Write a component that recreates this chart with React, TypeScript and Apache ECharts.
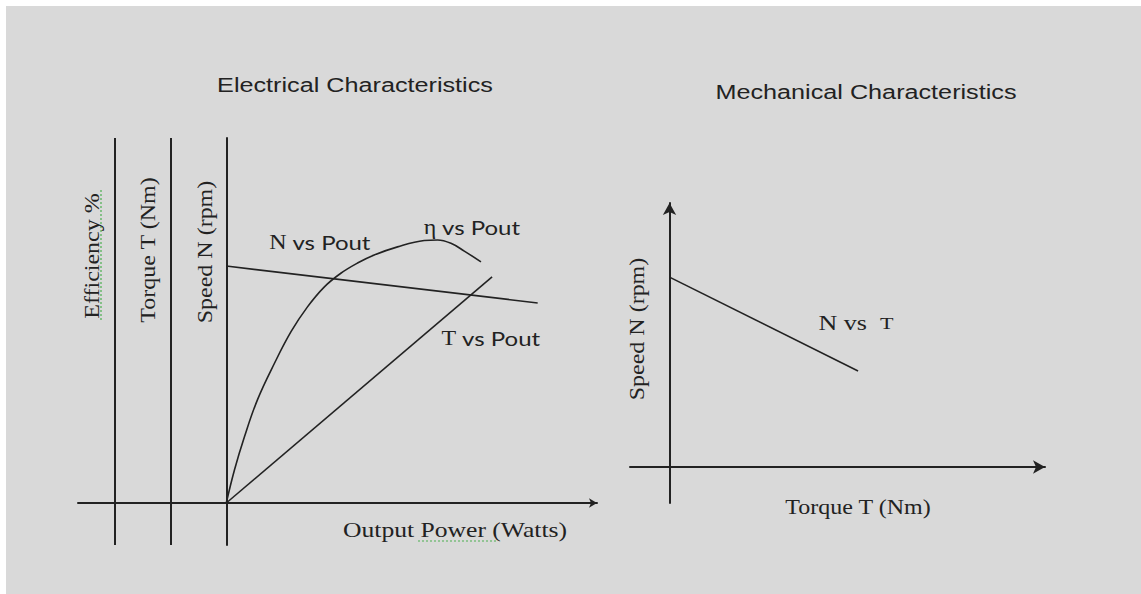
import React, { useEffect, useRef } from "react";
import * as echarts from "echarts";

// ---- Electrical characteristics (x: output power, y: relative scale) ----
const nVsPout: number[][] = [
  [0, 79],
  [84, 66.7],
];
const tVsPout: number[][] = [
  [0, 0],
  [71.7, 75.4],
];
const etaVsPout: number[][] = [
  [0, 0],
  [2.2, 11],
  [4.9, 22.1],
  [8.4, 34.4],
  [13, 46.6],
  [17.5, 57.2],
  [21.9, 65.4],
  [26.4, 72],
  [30.9, 76.6],
  [35.4, 80],
  [39.9, 82.7],
  [46.2, 85.4],
  [53.4, 87.5],
  [57, 87.7],
  [60.6, 86.6],
  [64.2, 84],
  [68.7, 80.4],
];
// extra vertical axes (efficiency, torque) drawn left of the speed axis
const extraAxesX: number[] = [-30, -15];

// ---- Mechanical characteristics (x: torque, y: speed) ----
const nVsTorque: number[][] = [
  [0, 63.3],
  [47.7, 32],
];

const titles = ["Electrical Characteristics", "Mechanical Characteristics"];
const leftAxisNames = ["Efficiency %", "Torque T (Nm)", "Speed N (rpm)"];
const xAxisNames = ["Output Power (Watts)", "Torque T (Nm)"];
const rightAxisName = "Speed N (rpm)";

const INK = "#222222";
const SERIF = "'Liberation Serif', 'Times New Roman', serif";
const SANS = "'Liberation Sans', Arial, sans-serif";
const LABEL = "Lato, 'Open Sans', sans-serif";

function txt(
  text: string,
  x: number,
  y: number,
  font: string,
  size: number,
  opts: any = {}
) {
  return {
    type: "text",
    x,
    y,
    rotation: opts.rotation || 0,
    scaleX: opts.scaleX || 1,
    silent: true,
    z: 10,
    style: {
      text,
      fill: INK,
      font: `${size}px ${font}`,
      align: "center",
      verticalAlign: "middle",
      rich: opts.rich,
    },
  };
}

export default function App() {
  const ref = useRef<HTMLDivElement>(null);

  useEffect(() => {
    if (!ref.current) return;
    const chart = echarts.init(ref.current, undefined, { renderer: "svg" });

    const hiddenAxisBits = {
      axisTick: { show: false },
      axisLabel: { show: false },
      splitLine: { show: false },
    };
    const lineStyle = { color: INK, width: 1.6 };
    const serifRich = { s: { font: `20px ${SERIF}`, fill: INK } };

    const option: any = {
      animation: false,
      backgroundColor: "#ffffff",
      grid: [
        { left: 78, right: 544, top: 138, bottom: 49 },
        { left: 630, right: 96, top: 203, bottom: 91 },
      ],
      xAxis: [
        {
          type: "value",
          gridIndex: 0,
          min: -40,
          max: 100,
          ...hiddenAxisBits,
          axisLine: {
            show: true,
            onZero: true,
            symbol: ["none", "arrow"],
            symbolSize: [7, 8],
            lineStyle: { color: INK, width: 2 },
          },
        },
        {
          type: "value",
          gridIndex: 1,
          min: -10,
          max: 95,
          ...hiddenAxisBits,
          axisLine: {
            show: true,
            onZero: true,
            symbol: ["none", "arrow"],
            symbolSize: [10, 12],
            lineStyle: { color: INK, width: 2 },
          },
        },
      ],
      yAxis: [
        {
          type: "value",
          gridIndex: 0,
          min: -14,
          max: 121.7,
          ...hiddenAxisBits,
          axisLine: {
            show: true,
            onZero: true,
            lineStyle: { color: INK, width: 2 },
          },
        },
        {
          type: "value",
          gridIndex: 1,
          min: -12,
          max: 88,
          ...hiddenAxisBits,
          axisLine: {
            show: true,
            onZero: true,
            symbol: ["none", "arrow"],
            symbolSize: [10, 12],
            lineStyle: { color: INK, width: 2 },
          },
        },
      ],
      series: [
        {
          name: "N vs Pout",
          type: "line",
          xAxisIndex: 0,
          yAxisIndex: 0,
          data: nVsPout,
          showSymbol: false,
          lineStyle,
          markLine: {
            silent: true,
            symbol: ["none", "none"],
            label: { show: false },
            lineStyle: { type: "solid", color: INK, width: 2 },
            data: extraAxesX.map((v) => ({ xAxis: v })),
          },
        },
        {
          name: "η vs Pout",
          type: "line",
          xAxisIndex: 0,
          yAxisIndex: 0,
          data: etaVsPout,
          smooth: 0.4,
          showSymbol: false,
          lineStyle,
        },
        {
          name: "T vs Pout",
          type: "line",
          xAxisIndex: 0,
          yAxisIndex: 0,
          data: tVsPout,
          showSymbol: false,
          lineStyle,
        },
        {
          name: "N vs T",
          type: "line",
          xAxisIndex: 1,
          yAxisIndex: 1,
          data: nVsTorque,
          showSymbol: false,
          lineStyle,
        },
      ],
      graphic: [
        {
          type: "rect",
          silent: true,
          z: -100,
          shape: { x: 6, y: 6, width: 1141, height: 594 },
          style: { fill: "#d9d9d9" },
        },
        txt(titles[0], 355, 85, SANS, 21, { scaleX: 1.2 }),
        txt(titles[1], 866, 92, SANS, 21, { scaleX: 1.2 }),
        txt(leftAxisNames[0], 92, 256, SERIF, 20, { rotation: Math.PI / 2, scaleX: 1.2 }),
        txt(leftAxisNames[1], 148, 250, SERIF, 20, { rotation: Math.PI / 2, scaleX: 1.2 }),
        txt(leftAxisNames[2], 205, 252, SERIF, 20, { rotation: Math.PI / 2, scaleX: 1.2 }),
        txt(rightAxisName, 637, 329, SERIF, 20, { rotation: Math.PI / 2, scaleX: 1.2 }),
        txt(xAxisNames[0], 455, 530, SERIF, 21, { scaleX: 1.22 }),
        txt(xAxisNames[1], 858, 507, SERIF, 20, { scaleX: 1.2 }),
        txt("{s|N} vs Pout", 320, 242, LABEL, 20, { scaleX: 1.2, rich: serifRich }),
        txt("{s|η} vs Pout", 472, 227, LABEL, 20, { scaleX: 1.2, rich: serifRich }),
        txt("{s|T} vs Pout", 491, 338, LABEL, 20, { scaleX: 1.2, rich: serifRich }),
        txt("N vs  {t|T}", 856, 323, SERIF, 20, {
          scaleX: 1.3,
          rich: { t: { font: `17px ${SERIF}`, fill: INK } },
        }),
        // spell-check squiggles visible in the source picture
        {
          type: "line",
          silent: true,
          z: 9,
          shape: { x1: 101, y1: 190, x2: 101, y2: 322 },
          style: { stroke: "#4caf50", lineWidth: 1.2, lineDash: [2, 2] },
        },
        {
          type: "line",
          silent: true,
          z: 9,
          shape: { x1: 418, y1: 541, x2: 498, y2: 541 },
          style: { stroke: "#4caf50", lineWidth: 1.2, lineDash: [2, 2] },
        },
      ],
    };

    chart.setOption(option);
    return () => chart.dispose();
  }, []);

  return (
    <div
      ref={ref}
      style={{ position: "fixed", left: 0, top: 0, width: 1141, height: 594 }}
    />
  );
}
